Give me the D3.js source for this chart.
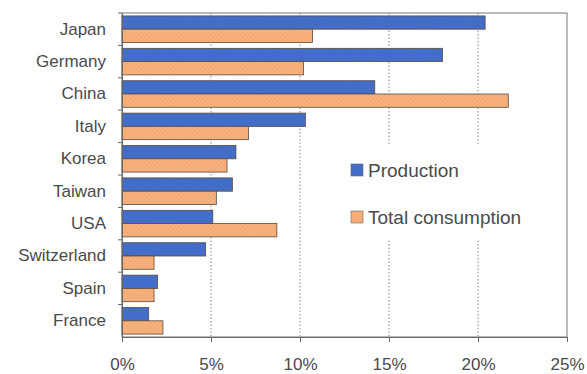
<!DOCTYPE html>
<html>
<head>
<meta charset="utf-8">
<script src="https://cdn.jsdelivr.net/npm/d3@7"></script>
<style>
  body { margin: 0; background: #fff; }
  text { font-family: "Liberation Sans", Arial, sans-serif; }
</style>
</head>
<body>
<svg id="chart" width="587" height="374"></svg>
<script>
// data (share, %)
const countries = ["Japan", "Germany", "China", "Italy", "Korea", "Taiwan", "USA", "Switzerland", "Spain", "France"];
const production = [20.4, 18.0, 14.2, 10.3, 6.4, 6.2, 5.1, 4.7, 2.0, 1.5];
const consumption = [10.7, 10.2, 21.7, 7.1, 5.9, 5.3, 8.7, 1.8, 1.8, 2.3];
const seriesNames = ["Production", "Total consumption"];
const xTicks = [0, 5, 10, 15, 20, 25];

const svg = d3.select('#chart');
const margin = {left: 122, right: 20, top: 13, bottom: 37};
const W = 587, H = 374;

const x = d3.scaleLinear().domain([0, 25]).range([margin.left, W - margin.right]);
const y = d3.scaleBand().domain(countries).range([margin.top, H - margin.bottom]).paddingInner(0.18).paddingOuter(0.09);
const sub = d3.scaleBand().domain(seriesNames).range([0, y.bandwidth()]);

// hatch patterns
const defs = svg.append('defs');
[["hatchBlue", "#4470cc", "#3a60b4"], ["hatchOrange", "#f8b27e", "#e49a66"]].forEach(([id, bg, fg]) => {
  const p = defs.append('pattern').attr('id', id).attr('width', 3).attr('height', 3)
    .attr('patternUnits', 'userSpaceOnUse').attr('patternTransform', 'rotate(45)');
  p.append('rect').attr('width', 3).attr('height', 3).attr('fill', bg);
  p.append('line').attr('x1', 0).attr('y1', 0).attr('x2', 0).attr('y2', 3).attr('stroke', fg).attr('stroke-width', 1);
});
const fillOf = {"Production": "url(#hatchBlue)", "Total consumption": "url(#hatchOrange)"};

// gridlines
svg.append('g').selectAll('line')
  .data(xTicks.slice(1, -1))
  .join('line')
  .attr('x1', d => x(d)).attr('x2', d => x(d))
  .attr('y1', margin.top).attr('y2', H - margin.bottom)
  .attr('stroke', '#888').attr('stroke-width', 1).attr('stroke-dasharray', '1.5,2');

// legend background (hides gridlines)
const legend = svg.append('g');
legend.append('rect').attr('x', 318).attr('y', 146).attr('width', 240).attr('height', 94).attr('fill', '#fff');

// bars
const rows = countries.map((c, i) => ({c, vals: [{s: seriesNames[0], v: production[i]}, {s: seriesNames[1], v: consumption[i]}]}));
svg.append('g').selectAll('g')
  .data(rows)
  .join('g')
  .attr('transform', d => `translate(0,${y(d.c)})`)
  .selectAll('rect')
  .data(d => d.vals)
  .join('rect')
  .attr('x', x(0))
  .attr('y', d => sub(d.s))
  .attr('width', d => x(d.v) - x(0))
  .attr('height', sub.bandwidth())
  .attr('fill', d => fillOf[d.s])
  .attr('stroke', '#5a4a3a')
  .attr('stroke-width', 0.8);

// frame
svg.append('rect')
  .attr('x', margin.left).attr('y', margin.top)
  .attr('width', W - margin.right - margin.left).attr('height', H - margin.bottom - margin.top)
  .attr('fill', 'none').attr('stroke', '#777').attr('stroke-width', 1);

// x axis
const xAxis = svg.append('g').attr('transform', `translate(0,${H - margin.bottom})`)
  .call(d3.axisBottom(x).tickValues(xTicks).tickFormat(d => d + '%').tickSize(5).tickPadding(16));
xAxis.select('.domain').attr('stroke', '#666');
xAxis.selectAll('.tick line').attr('stroke', '#666');
xAxis.selectAll('text').attr('font-size', 17).attr('fill', '#4a4a4a');

// y axis
const yAxis = svg.append('g').attr('transform', `translate(${margin.left},0)`)
  .call(d3.axisLeft(y).tickSize(0).tickPadding(16));
yAxis.select('.domain').attr('stroke', '#666');
yAxis.selectAll('text').attr('font-size', 17).attr('fill', '#4a4a4a');
// category boundary ticks
const step = y.step();
svg.append('g').selectAll('line')
  .data(countries)
  .join('line')
  .attr('x1', margin.left - 4).attr('x2', margin.left)
  .attr('y1', d => y(d) - y.paddingInner() * step / 2)
  .attr('y2', d => y(d) - y.paddingInner() * step / 2)
  .attr('stroke', '#666');

// legend entries
seriesNames.forEach((s, i) => {
  const ly = 170 + i * 47;
  legend.append('rect').attr('x', 351).attr('y', ly - 6).attr('width', 12).attr('height', 12)
    .attr('fill', fillOf[s]).attr('stroke', '#666').attr('stroke-width', 0.6);
  legend.append('text').attr('x', 368).attr('y', ly + 7).attr('font-size', 19).attr('fill', '#4a4a4a').text(s);
});
</script>
</body>
</html>
